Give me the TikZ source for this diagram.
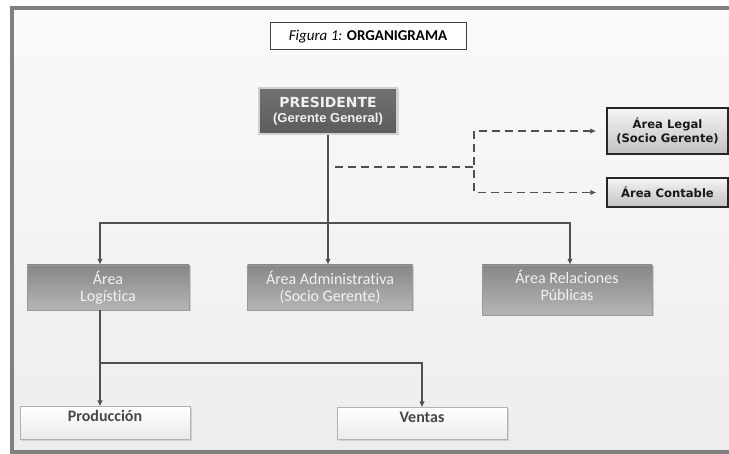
\documentclass[tikz,border=0pt]{standalone}
\usepackage{fontspec}
\setmainfont{Carlito}[Ligatures=NoCommon]
\newfontfamily\arialfont{Liberation Sans}
\newfontfamily\verdfont{DejaVu Sans}
\usepackage{tikz}
\usetikzlibrary{arrows.meta}
\usetikzlibrary{shadows}
\definecolor{linegray}{HTML}{505050}
\definecolor{framegray}{HTML}{808080}

\begin{document}
\begin{tikzpicture}[x=1pt,y=-1pt,
  conn/.style={draw=linegray,line width=1.8pt,-{Latex[length=6pt,width=5.5pt]}},
  dashline/.style={draw=linegray,line width=1.6pt,dash pattern=on 8pt off 5pt},
  titlebox/.style={rectangle,draw=black!75,line width=1pt,fill=white,inner sep=0pt,
    font=\fontsize{15}{17}\selectfont},
  darkbox/.style={rectangle,draw=black!18,line width=1.5pt,top color=black!56,bottom color=black!64,
    text=white!94!black,align=center,inner sep=0pt,font=\fontsize{13}{15}\selectfont\bfseries,
    drop shadow={shadow xshift=1.5pt,shadow yshift=-1.5pt,opacity=.3}},
  midbox/.style={rectangle,draw=black!40,line width=.4pt,top color=black!47,bottom color=black!29,
    text=white!95!black,align=center,inner sep=0pt,font=\fontsize{16}{17}\selectfont,
    drop shadow={shadow xshift=1.5pt,shadow yshift=-1.5pt,opacity=.3}},
  sidebox/.style={rectangle,draw=black!85,line width=1.4pt,top color=black!4,bottom color=black!24,
    text=black!90,align=center,inner sep=0pt,font=\verdfont\bfseries\fontsize{11.6}{14}\selectfont,
    drop shadow={shadow xshift=1.5pt,shadow yshift=-1.5pt,opacity=.3}},
  lowbox/.style={rectangle,draw=black!30,line width=1pt,top color=white,bottom color=black!8,
    text=black!72,inner sep=0pt,text height=11pt,text depth=14pt,font=\fontsize{16}{17}\selectfont\bfseries,
    drop shadow={shadow xshift=1.5pt,shadow yshift=-1.5pt,opacity=.25}}]
\clip (0,0) rectangle (729,454);
\fill[white] (0,0) rectangle (729,454);
\draw[framegray,line width=3.5pt,top color=black!2,bottom color=black!7] (12,8) rectangle (770,452);

\node[titlebox,minimum width=196pt,minimum height=27pt] (tit) at (368,36.5)
  {\textit{Figura 1:} \textbf{ORGANIGRAMA}};
\node[darkbox,minimum width=138pt,minimum height=46pt] (pres) at (328,111)
  {{\verdfont\fontsize{13.9}{15}\selectfont PRESIDENTE}\\{\arialfont (Gerente General)}};
\node[sidebox,minimum width=121pt,minimum height=46pt] (legal) at (667.5,131)
  {Área Legal\\(Socio Gerente)};
\node[sidebox,minimum width=121pt,minimum height=29pt] (contable) at (667.5,192.5)
  {Área Contable};
\node[midbox,minimum width=162pt,minimum height=45pt] (logi) at (108,287.5)
  {Área\\Logística};
\node[midbox,minimum width=165pt,minimum height=45pt] (admin) at (330,287.5)
  {Área Administrativa\\(Socio Gerente)};
\node[midbox,minimum width=170pt,minimum height=50pt] (rel) at (567,290)
  {Área Relaciones\\Públicas\\[-8pt]};
\node[lowbox,minimum width=170pt,minimum height=33pt] (prod) at (105,423.5)
  {Producción};
\node[lowbox,minimum width=170pt,minimum height=32pt] (ventas) at (422,424)
  {Ventas};

\coordinate (jl) at (100,223);
\coordinate (jr) at (570,223);
\coordinate (jb) at (100,363);
\coordinate (d0) at (335,167);
\coordinate (d1) at (474,167);

\draw[conn] (pres.south) -- (pres.south |- admin.north);
\draw[conn,{Latex[length=6pt,width=5.5pt]}-{Latex[length=6pt,width=5.5pt]}]
  (jl |- logi.north) |- (jr) -- (jr |- rel.north);
\draw[conn] (jl |- logi.south) -- (jl |- prod.north);
\draw[conn] (jb) -| (ventas.north);
\draw[dashline] (d0) -- (d1);
\draw[dashline,{Latex[length=6pt,width=5.5pt]}-{Latex[length=6pt,width=5.5pt]}]
  ([xshift=-10pt]legal.west) -| (d1) |- ([xshift=-10pt]contable.west);
\end{tikzpicture}
\end{document}
